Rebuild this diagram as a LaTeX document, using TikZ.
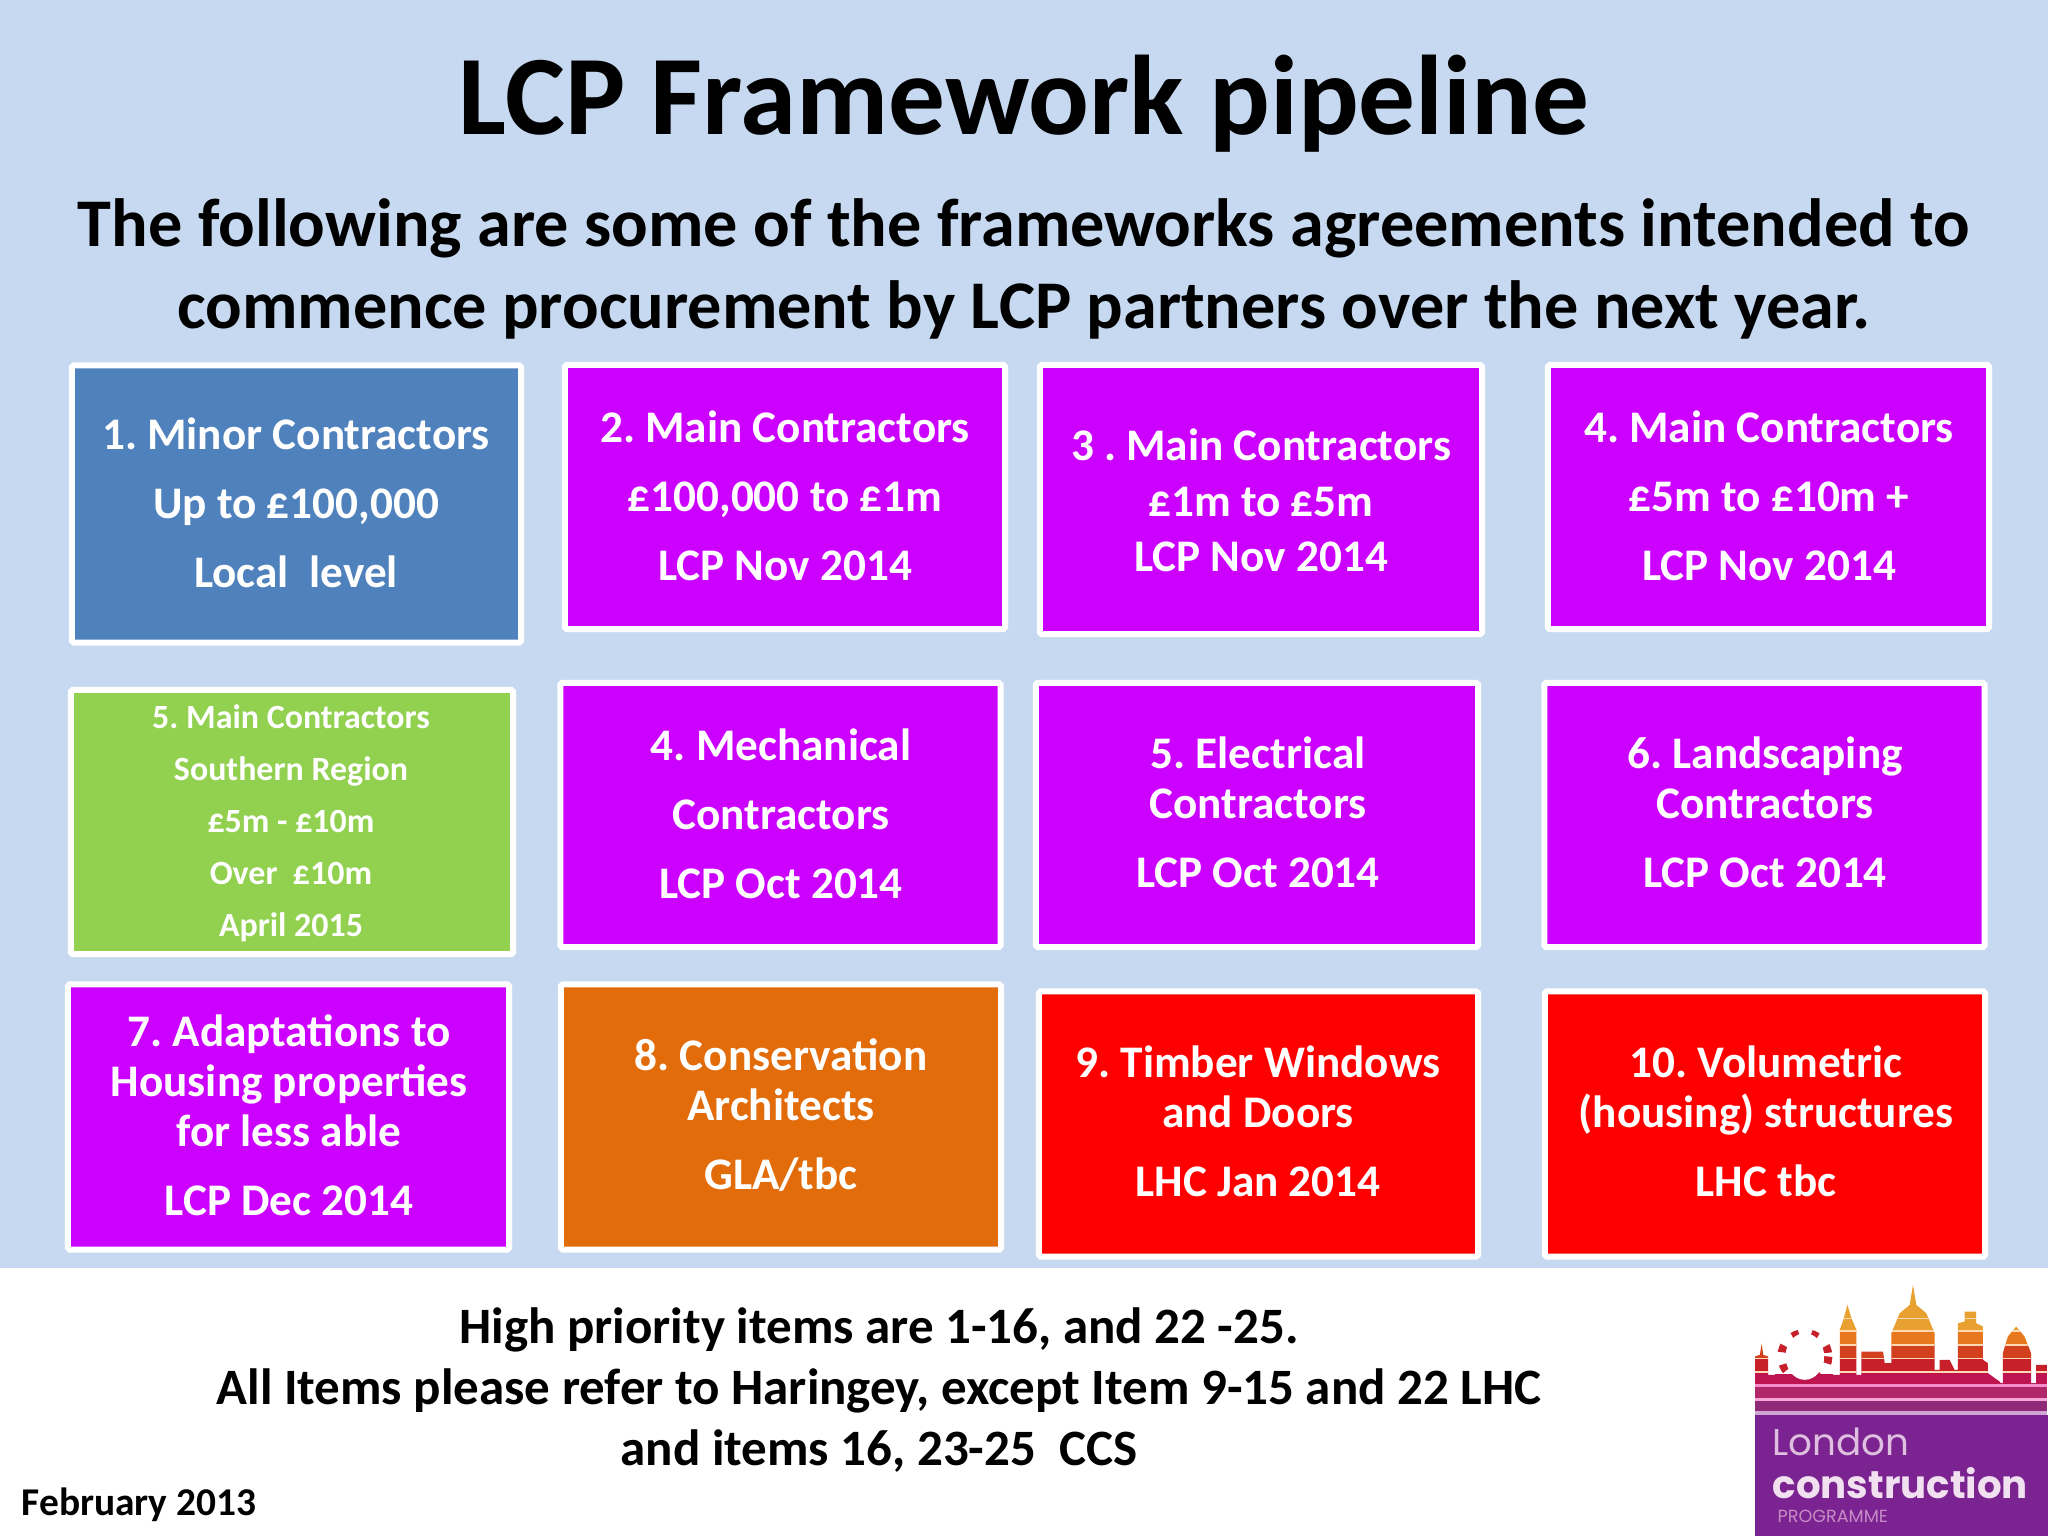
\documentclass[tikz,border=0pt]{standalone}
\usepackage{fontspec}
\setmainfont{Carlito}
\newfontfamily\logofont{Poppins}
\frenchspacing
\definecolor{slideblue}{HTML}{C6D9F1}
\definecolor{boxblue}{HTML}{4F81BD}
\definecolor{boxpurple}{HTML}{CC00FF}
\definecolor{boxgreen}{HTML}{92D050}
\definecolor{boxorange}{HTML}{E36C0A}
\definecolor{boxred}{HTML}{FF0000}
\definecolor{logopurple}{HTML}{7B2390}
\definecolor{logoa}{HTML}{E8A030}
\definecolor{logob}{HTML}{E8781E}
\definecolor{logoc}{HTML}{D2401E}
\definecolor{logod}{HTML}{C8202A}
\definecolor{logoe}{HTML}{BE1450}
\definecolor{logof}{HTML}{B0286A}
\definecolor{logog}{HTML}{8E2A78}
\tikzset{
  pbox/.style={draw=white, line width=1.7pt, rounded corners=0.5pt, inner sep=0pt},
  boxtext/.style={text=white, align=center, inner sep=0pt, font=\fontsize{12.85}{14.2}\selectfont\bfseries},
  smalltext/.style={text=white, align=center, inner sep=0pt, font=\fontsize{9.65}{14.8}\selectfont\bfseries},
  blacktext/.style={align=center, inner sep=0pt, font=\fontsize{14.5}{17.4}\selectfont\bfseries}
}
\begin{document}
\begin{tikzpicture}[x=0.01cm,y=-0.01cm]
  \useasboundingbox (0,0) rectangle (2048,1536);
  \fill[slideblue] (0,0) rectangle (2048,1268);
  \fill[white] (0,1268) rectangle (2048,1536);
  % headings
  \node[inner sep=0pt, font=\fontsize{32.2}{38}\selectfont\bfseries] (title) at (1024,104) {LCP Framework pipeline};
  \node[align=center, inner sep=0pt, font=\fontsize{19.4}{23.3}\selectfont\bfseries] (subtitle) at (1024,269)
    {The following are some of the frameworks agreements intended to\\commence procurement by LCP partners over the next year.};
  % first row
  \node[pbox, fill=boxblue, minimum width=4.49cm, minimum height=2.77cm] (b1) at (296.5,504) {};
  \node[pbox, fill=boxpurple, minimum width=4.40cm, minimum height=2.64cm] (b2) at (785,497) {};
  \node[pbox, fill=boxpurple, minimum width=4.42cm, minimum height=2.69cm] (b3) at (1261,499.5) {};
  \node[pbox, fill=boxpurple, minimum width=4.41cm, minimum height=2.64cm] (b4) at (1768.5,497) {};
  \node[boxtext] (t1) at (296,502.5) {1. Minor Contractors\\[5.4pt]Up to £100,000\\[5.4pt]Local\ \ level};
  \node[boxtext] (t2) at (785,495.5) {2. Main Contractors\\[5.4pt]£100,000 to £1m\\[5.4pt]LCP Nov 2014};
  \node[boxtext] (t3) at (1261,500.5) {3 . Main Contractors\\[1.5pt]£1m to £5m\\[1.5pt]LCP Nov 2014};
  \node[boxtext] (t4) at (1769,495.5) {4. Main Contractors\\[5.4pt]£5m to £10m +\\[5.4pt]LCP Nov 2014};
  % second row
  \node[pbox, fill=boxgreen, minimum width=4.42cm, minimum height=2.64cm] (b5) at (292,822) {};
  \node[pbox, fill=boxpurple, minimum width=4.40cm, minimum height=2.64cm] (b6) at (780.5,815) {};
  \node[pbox, fill=boxpurple, minimum width=4.42cm, minimum height=2.64cm] (b7) at (1257,815) {};
  \node[pbox, fill=boxpurple, minimum width=4.40cm, minimum height=2.64cm] (b8) at (1764.5,815) {};
  \node[smalltext] (t5) at (291,823) {5. Main Contractors\\Southern Region\\£5m - £10m\\Over\ \ £10m\\April 2015};
  \node[boxtext] (t6) at (781,813.5) {4. Mechanical\\[5.4pt]Contractors\\[5.4pt]LCP Oct 2014};
  \node[boxtext] (t7) at (1258,812.5) {5. Electrical\\Contractors\\[5.4pt]LCP Oct 2014};
  \node[boxtext] (t8) at (1765,812.5) {6. Landscaping\\Contractors\\[5.4pt]LCP Oct 2014};
  % third row
  \node[pbox, fill=boxpurple, minimum width=4.41cm, minimum height=2.65cm] (b9) at (288.5,1117) {};
  \node[pbox, fill=boxorange, minimum width=4.40cm, minimum height=2.65cm] (b10) at (781,1117) {};
  \node[pbox, fill=boxred, minimum width=4.39cm, minimum height=2.65cm] (b11) at (1258.5,1124) {};
  \node[pbox, fill=boxred, minimum width=4.40cm, minimum height=2.65cm] (b12) at (1765,1124) {};
  \node[boxtext] (t9) at (289,1115) {7. Adaptations to\\Housing properties\\for less able\\[5.4pt]LCP Dec 2014};
  \node[boxtext] (t10) at (781,1115.5) {8. Conservation\\Architects\\[5.4pt]GLA/tbc};
  \node[boxtext] (t11) at (1258,1121.5) {9. Timber Windows\\and Doors\\[5.4pt]LHC Jan 2014};
  \node[boxtext] (t12) at (1766,1121.5) {10. Volumetric\\(housing) structures\\[5.4pt]LHC tbc};
  % footer
  \node[blacktext] (note) at (879,1390) {High priority items are 1-16, and 22 -25.\\All Items please refer to Haringey, except Item 9-15 and 22 LHC\\and items 16, 23-25\ \ CCS};
  \node[inner sep=0pt, anchor=west, font=\fontsize{11.2}{13}\selectfont\bfseries] (date) at (21,1505) {February 2013};
  % logo
  \fill[logopurple] (1755,1415) rectangle (2048,1536);
  \begin{scope}[shift={(1700,1250)},x=0.003333cm,y=-0.003333cm]
    \fill[logof] (165,400) rectangle (1044,448);
    \fill[logog] (165,448) rectangle (1044,490);
    \fill[white!55!magenta] (165,402) rectangle (1044,412);
    \fill[white!65!magenta] (165,445) rectangle (1044,454);
    \fill[white!65!violet] (165,485) rectangle (1044,496);
    \begin{scope}
      \clip (165,402) -- (165,320) -- (180,315) -- (185,280) -- (190,315) -- (205,320) -- (205,375) -- (420,375)
        -- (420,240) -- (432,205) -- (443,165) -- (455,205) -- (470,240) -- (470,375) -- (485,375) -- (485,305)
        -- (550,305) -- (555,340) -- (575,340) -- (575,250) -- (600,190) -- (630,165) -- (640,105) -- (650,165)
        -- (680,190) -- (705,250) -- (705,360) -- (720,360) -- (720,330) -- (750,330) -- (765,360) -- (775,360)
        -- (775,220) -- (795,215) -- (795,185) -- (830,185) -- (830,220) -- (850,230) -- (850,330) -- (865,340)
        -- (865,370) -- (900,395) -- (905,402) -- (910,402) -- (910,310) -- (925,260) -- (950,230) -- (975,260)
        -- (995,310) -- (995,402) -- (1010,402) -- (1010,345) -- (1044,345) -- (1044,402) -- cycle;
      \fill[logoa] (165,100) rectangle (1044,240);
      \fill[logob] (165,240) rectangle (1044,285);
      \fill[logoc] (165,285) rectangle (1044,325);
      \fill[logod] (165,325) rectangle (1044,365);
      \fill[logoe] (165,365) rectangle (1044,402);
      \foreach \y in {205,243,285,326,367}
        \fill[white!70!orange] (165,\y-2) rectangle (1044,\y+2);
    \end{scope}
    \draw[logod, line width=2.4pt, dash pattern=on 2pt off 3.5pt] (315,320) circle (70);
    \fill[logoe] (225,372) rectangle (400,402);
    \fill[white] (315,320) ellipse (58 and 70);
  \end{scope}
  \node[anchor=west, inner sep=0pt, text=violet!25!white, font=\logofont\fontsize{10.6}{12}\selectfont] (logotop) at (1772,1442) {London};
  \node[anchor=west, inner sep=0pt, text=violet!12!white, font=\logofont\fontsize{11}{12}\selectfont\bfseries] (logomid) at (1772,1483) {construction};
  \node[anchor=west, inner sep=0pt, text=violet!45!white, font=\logofont\fontsize{5}{6}\selectfont] (logolow) at (1777,1516) {PROGRAMME};
\end{tikzpicture}
\end{document}
